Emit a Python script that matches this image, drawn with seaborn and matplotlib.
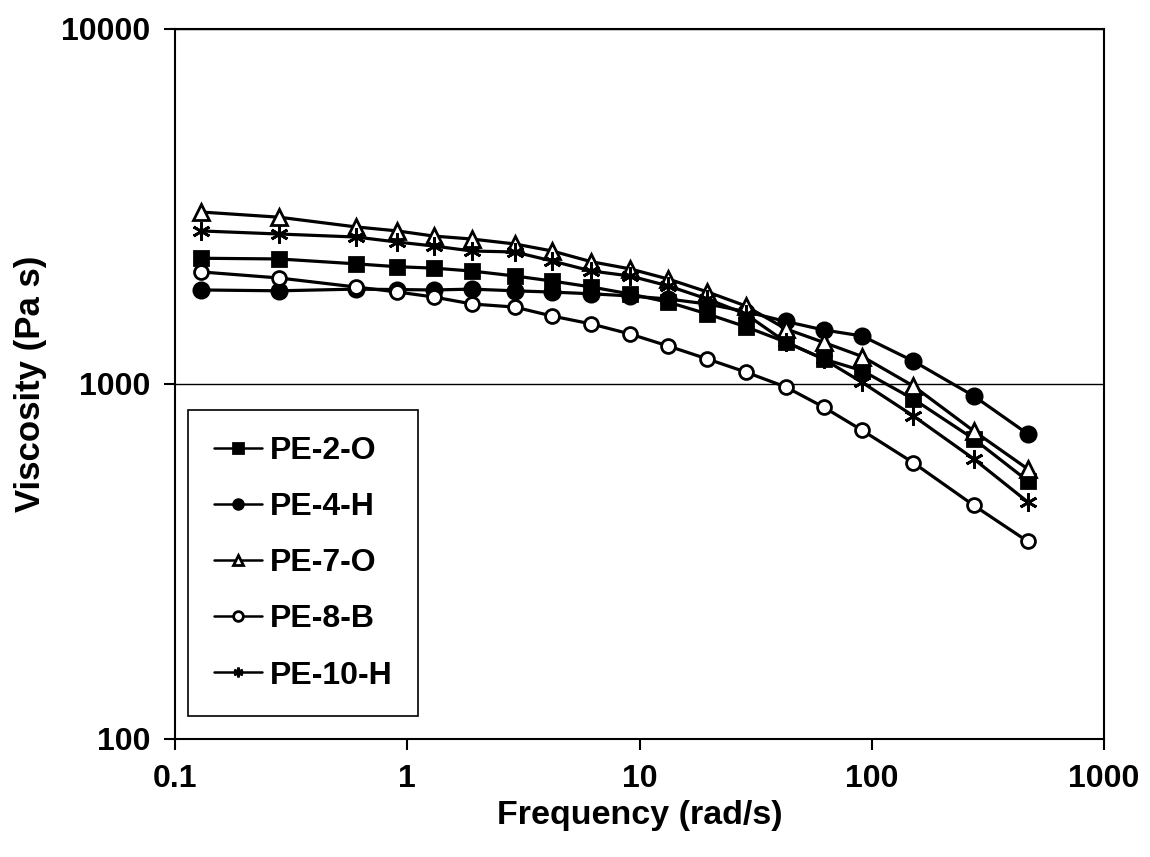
import matplotlib
matplotlib.use("Agg")
import matplotlib.pyplot as plt
import seaborn as sns
import numpy as np
import pandas as pd
from matplotlib.ticker import FixedLocator, FixedFormatter, NullLocator

# ---- data ----
frequency = [0.13, 0.28, 0.6, 0.9, 1.3, 1.9, 2.9, 4.2, 6.2, 9.1, 13.3, 19.6,
             28.6, 42.6, 62, 91, 151, 275, 470]

pe_2_o = [2260, 2250, 2180, 2140, 2120, 2080, 2015, 1950, 1876, 1793, 1700,
          1575, 1450, 1313, 1176, 1090, 907, 700, 533]
pe_4_h = [1840, 1830, 1850, 1845, 1840, 1850, 1830, 1815, 1795, 1770, 1735,
          1680, 1600, 1500, 1420, 1365, 1160, 925, 723]
pe_7_o = [3050, 2950, 2770, 2700, 2610, 2560, 2480, 2370, 2210, 2110, 1975,
          1817, 1660, 1430, 1310, 1195, 987, 737, 576]
pe_8_b = [2068, 1989, 1876, 1817, 1758, 1680, 1647, 1554, 1476, 1383, 1279,
          1176, 1081, 981, 861, 740, 600, 455, 360]
pe_10_h = [2698, 2645, 2594, 2512, 2447, 2369, 2354, 2221, 2081, 2015, 1889,
           1735, 1575, 1313, 1176, 1010, 813, 615, 465]

series_names = ["PE-2-O", "PE-4-H", "PE-7-O", "PE-8-B", "PE-10-H"]
series_values = [pe_2_o, pe_4_h, pe_7_o, pe_8_b, pe_10_h]

x_ticks = [0.1, 1, 10, 100, 1000]
x_tick_labels = ["0.1", "1", "10", "100", "1000"]
y_ticks = [100, 1000, 10000]
y_tick_labels = ["100", "1000", "10000"]

x_label = "Frequency (rad/s)"
y_label = "Viscosity (Pa s)"

# ---- styles ----
styles = {
    "PE-2-O": dict(marker="s", mfc="black", ms=10),
    "PE-4-H": dict(marker="o", mfc="black", ms=11),
    "PE-7-O": dict(marker="^", mfc="white", ms=11),
    "PE-8-B": dict(marker="o", mfc="white", ms=10),
    "PE-10-H": dict(marker=(6, 2, 0), mfc="black", ms=13),
}

sns.set_theme(style="white")
plt.rcParams["font.family"] = ["Liberation Sans", "DejaVu Sans"]
plt.rcParams["font.weight"] = "bold"
plt.rcParams["text.color"] = "black"
plt.rcParams["axes.labelcolor"] = "black"
plt.rcParams["xtick.color"] = "black"
plt.rcParams["ytick.color"] = "black"

fig = plt.figure(figsize=(11.5, 8.57), dpi=100)
ax = fig.add_axes([0.1522, 0.1377, 0.8078, 0.8285])

for name, vals in zip(series_names, series_values):
    df = pd.DataFrame({"freq": frequency, "visc": vals})
    st = styles[name]
    sns.lineplot(data=df, x="freq", y="visc", ax=ax, color="black",
                 linewidth=2.3, marker=st["marker"], markersize=st["ms"],
                 markerfacecolor=st["mfc"], markeredgecolor="black",
                 markeredgewidth=2.0, label=name, sort=False,
                 estimator=None, legend=False)

ax.set_xscale("log")
ax.set_yscale("log")
ax.set_xlim(0.1, 1000)
ax.set_ylim(100, 10000)

ax.xaxis.set_major_locator(FixedLocator(x_ticks))
ax.xaxis.set_major_formatter(FixedFormatter(x_tick_labels))
ax.yaxis.set_major_locator(FixedLocator(y_ticks))
ax.yaxis.set_major_formatter(FixedFormatter(y_tick_labels))
ax.xaxis.set_minor_locator(NullLocator())
ax.yaxis.set_minor_locator(NullLocator())

ax.tick_params(axis="both", which="major", direction="out", length=8,
               width=1.5, colors="black", labelsize=23, pad=10,
               bottom=True, left=True, top=False, right=False)
for lbl in ax.get_xticklabels() + ax.get_yticklabels():
    lbl.set_fontweight("bold")
    lbl.set_color("black")

ax.yaxis.grid(True, which="major", color="black", linewidth=1.0)
ax.xaxis.grid(False)

for sp in ax.spines.values():
    sp.set_color("black")
    sp.set_linewidth(1.5)
    sp.set_visible(True)

ax.set_xlabel(x_label, fontsize=24.5, fontweight="heavy", labelpad=4,
              color="black")
ax.set_ylabel(y_label, fontsize=25, fontweight="heavy", labelpad=10,
              color="black")

leg = ax.legend(loc="upper left", bbox_to_anchor=(0.014, 0.463),
                borderaxespad=0, frameon=True, fancybox=False,
                edgecolor="black", framealpha=1,
                handlelength=1.5, handletextpad=0.25, labelspacing=0.82,
                borderpad=0.8, prop={"weight": "bold", "size": 23})
leg.get_frame().set_linewidth(1.2)
for t in leg.get_texts():
    t.set_color("black")
for h in leg.legend_handles:
    h.set_markersize(7)
    h.set_linewidth(1.8)

fig.savefig("out.png", dpi=100, facecolor="white")
